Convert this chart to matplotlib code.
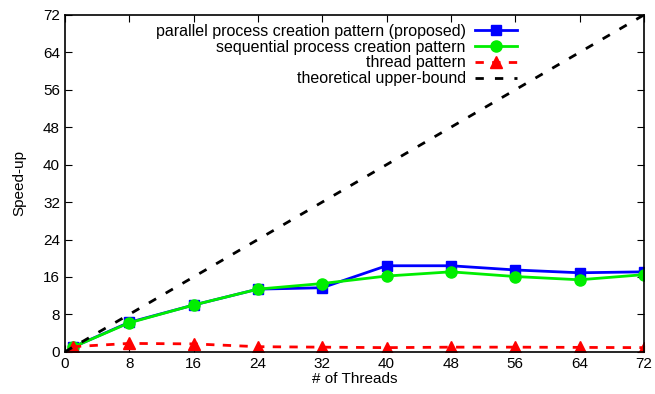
import matplotlib
matplotlib.use("Agg")
import matplotlib.pyplot as plt

plt.rcParams['font.family'] = ['Liberation Sans', 'DejaVu Sans']

threads = [1, 8, 16, 24, 32, 40, 48, 56, 64, 72]
parallel = [1.0, 6.3, 10.0, 13.4, 13.7, 18.4, 18.4, 17.5, 16.9, 17.1]
sequential = [1.0, 6.2, 10.0, 13.4, 14.6, 16.2, 17.1, 16.1, 15.4, 16.5]
thread_pat = [1.1, 1.8, 1.7, 1.1, 1.0, 0.9, 1.0, 1.0, 0.95, 0.9]
bound_x = [0, 72]
bound_y = [0, 72]
ticks = list(range(0, 73, 8))

fig = plt.figure(figsize=(6.55, 3.94), dpi=100)
ax = fig.add_axes([0.099, 0.107, 0.884, 0.855])

ax.plot(threads, parallel, color='#0000ff', lw=2, marker='s', ms=7,
        label='parallel process creation pattern (proposed)')
ax.plot(threads, sequential, color='#00ee00', lw=2, marker='o', ms=8,
        label='sequential process creation pattern')
ax.plot(threads, thread_pat, color='#ff0000', lw=2, ls=(0, (3, 3)), marker='^', ms=8,
        label='thread pattern')
ax.plot(bound_x, bound_y, color='black', lw=2, ls=(0, (3, 4)),
        label='theoretical upper-bound')

ax.set_xlim(0, 72)
ax.set_ylim(0, 72)
ax.set_xticks(ticks)
ax.set_yticks(ticks)
ax.tick_params(direction='in', top=True, right=True, length=5, labelsize=11)
for s in ax.spines.values():
    s.set_linewidth(1.2)
ax.set_xlabel('# of Threads', fontsize=11, labelpad=1)
ax.set_ylabel('Speed-up', fontsize=11, labelpad=12)

ax.legend(loc='upper right', bbox_to_anchor=(0.806, 0.968), bbox_transform=fig.transFigure,
          frameon=False, markerfirst=False, fontsize=11.5, handlelength=2.6,
          labelspacing=0.05, borderpad=0.2, handletextpad=0.6)

fig.savefig('out.png', dpi=100)
